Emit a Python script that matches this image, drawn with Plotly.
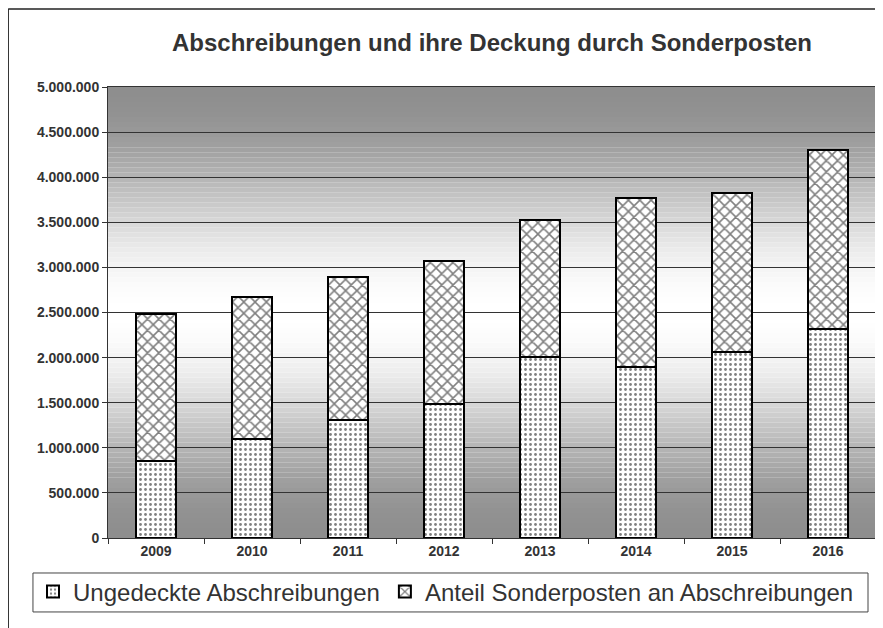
import math
import plotly.graph_objects as go

years = ["2009", "2010", "2011", "2012", "2013", "2014", "2015", "2016"]
ungedeckt = [850000, 1095000, 1310000, 1490000, 2005000, 1900000, 2065000, 2320000]
sonderposten = [1630000, 1580000, 1585000, 1580000, 1520000, 1870000, 1760000, 1985000]

series_names = ["Ungedeckte Abschreibungen", "Anteil Sonderposten an Abschreibungen"]
title_text = "Abschreibungen und ihre Deckung durch Sonderposten"

FONT = "Liberation Sans, Arial, sans-serif"
TXT = "#333333"

W, H = 875, 620

fig = go.Figure()
fig.add_trace(go.Bar(
    x=years, y=ungedeckt, name=series_names[0],
    marker=dict(color="white", line=dict(color="black", width=2),
                pattern=dict(shape=".", size=5, solidity=0.25,
                             fgcolor="black", bgcolor="white")),
))
fig.add_trace(go.Bar(
    x=years, y=sonderposten, name=series_names[1],
    marker=dict(color="white", line=dict(color="black", width=2),
                pattern=dict(shape="x", size=8, solidity=0.35,
                             fgcolor="black", bgcolor="white")),
))

# background gradient (gray edges, white centre) as thin stripes
shapes = []
N = 90
base = 0x8e
for i in range(N):
    t = (i + 0.5) / N
    d = abs(t - 0.5) / 0.5
    f = (1 + math.cos(math.pi * d)) / 2
    v = int(round(base + (0xff - base) * f))
    col = "rgb(%d,%d,%d)" % (v, v, v)
    shapes.append(dict(type="rect", xref="paper", yref="paper",
                       x0=0, x1=1, y0=i / N, y1=(i + 1) / N,
                       fillcolor=col, line=dict(width=0), layer="below"))

# legend box
shapes.append(dict(type="rect", xref="paper", yref="paper",
                   x0=-0.0977, x1=0.9896, y0=-0.164, y1=-0.0776,
                   fillcolor="rgba(0,0,0,0)", line=dict(color="#444", width=1),
                   layer="above"))
# outer frame lines (top and left)
shapes.append(dict(type="line", xref="paper", yref="paper",
                   x0=-0.130, x1=1.02, y0=1.173, y1=1.173,
                   line=dict(color="#222", width=1.5)))
shapes.append(dict(type="line", xref="paper", yref="paper",
                   x0=-0.130, x1=-0.130, y0=1.173, y1=-0.25,
                   line=dict(color="#222", width=1.5)))

fig.update_layout(
    width=W, height=H,
    margin=dict(l=100, r=7, t=79, b=90, autoexpand=False),
    barmode="stack", bargap=0.59,
    paper_bgcolor="white", plot_bgcolor="rgba(0,0,0,0)",
    separators=",.",
    font=dict(family=FONT, color=TXT),
    title=dict(text=title_text, x=0.5, xref="paper",
               xanchor="center", y=1 - 35 / H, yref="container",
               yanchor="middle",
               font=dict(size=24, color=TXT, family=FONT, weight="bold")),
    showlegend=True,
    legend=dict(orientation="h", xref="paper", yref="paper",
                x=(25 - 100) / 768, xanchor="left",
                y=(530 - 584) / 451, yanchor="middle",
                font=dict(size=24, color=TXT, family=FONT),
                bgcolor="rgba(0,0,0,0)", borderwidth=0,
                traceorder="normal", itemwidth=30),
    shapes=shapes,
)
fig.update_xaxes(
    type="category", showgrid=False, ticks="outside", tickson="boundaries",
    ticklen=5, tickcolor="#333", showline=True, linecolor="#333", linewidth=1,
    mirror=True, tickfont=dict(size=14, color=TXT, family=FONT, weight="bold"),
)
fig.update_yaxes(
    range=[0, 5000000], tickvals=[i * 500000 for i in range(11)],
    tickformat=",d", showgrid=True, gridcolor="#333", gridwidth=1,
    ticks="outside", ticklen=5, tickcolor="#333", showline=True,
    linecolor="#333", linewidth=1, mirror=True, zeroline=False,
    automargin=False,
    tickfont=dict(size=14, color=TXT, family=FONT, weight="bold"),
)

fig.write_html("out.html")
